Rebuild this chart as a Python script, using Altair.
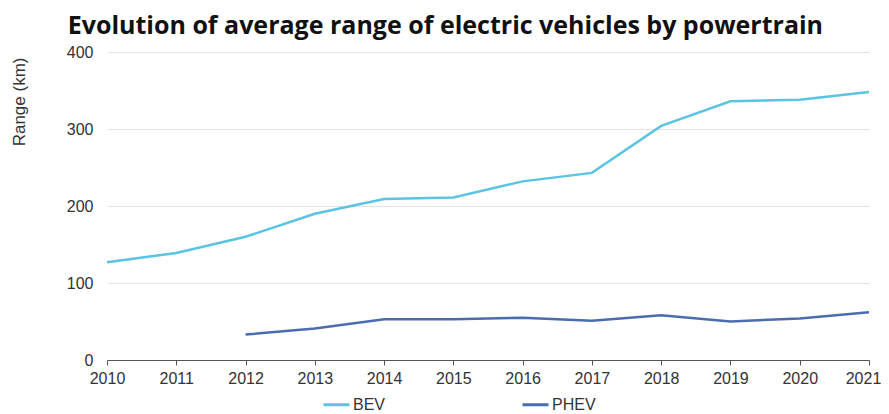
import altair as alt
import pandas as pd

years = [2010, 2011, 2012, 2013, 2014, 2015, 2016, 2017, 2018, 2019, 2020, 2021]
bev = [127, 139, 160, 190, 209, 211, 232, 243, 304, 336, 338, 348]
phev_years = [2012, 2013, 2014, 2015, 2016, 2017, 2018, 2019, 2020, 2021]
phev = [33, 41, 53, 53, 55, 51, 58, 50, 54, 62]

rows = [{"year": y, "range": v, "type": "BEV"} for y, v in zip(years, bev)]
rows += [{"year": y, "range": v, "type": "PHEV"} for y, v in zip(phev_years, phev)]
df = pd.DataFrame(rows)

chart = alt.Chart(df).mark_line(strokeWidth=2.5).encode(
    x=alt.X("year:Q", scale=alt.Scale(domain=[2010, 2021], nice=False, zero=False),
            axis=alt.Axis(values=years, format="d", title=None, grid=False,
                          domainColor="#555555", tickColor="#555555", tickSize=5,
                          labelFont="Liberation Sans", labelFontSize=16, labelColor="#333333",
                          labelPadding=5, labelFlush=False, labelOverlap=False, labelBound=False,
                          labelOffset={"condition": {"test": "datum.value == 2021", "value": -6}, "value": 0})),
    y=alt.Y("range:Q", scale=alt.Scale(domain=[0, 400]),
            axis=alt.Axis(values=[0, 100, 200, 300, 400], title="Range (km)", domain=False, ticks=False,
                          gridColor="#e2e2e2", labelFont="Liberation Sans", labelFontSize=16,
                          labelColor="#333333", labelPadding=14,
                          titleFont="Liberation Sans", titleFontSize=17, titleFontWeight="normal",
                          titleColor="#333333", titleAnchor="end", titleAngle=-90,
                          titleAlign="right", titleBaseline="bottom", titleX=-79, titleY=5)),
    color=alt.Color("type:N", scale=alt.Scale(domain=["BEV", "PHEV"], range=["#5BC4E2", "#4A6DB0"]),
                    legend=alt.Legend(title=None, orient="none", legendX=215, legendY=338,
                                      direction="horizontal", symbolType="stroke",
                                      symbolSize=676, symbolStrokeWidth=3, labelOffset=2,
                                      columnPadding=130, labelFont="Liberation Sans",
                                      labelFontSize=16, labelColor="#333333")),
).properties(
    width=762, height=308,
    title=alt.TitleParams("Evolution of average range of electric vehicles by powertrain",
                          font="Open Sans", fontSize=25, fontWeight="bold", color="#111111",
                          anchor="middle", frame="bounds", offset=5),
    autosize=alt.AutoSizeParams(type="none"),
    padding={"left": 99, "top": 44, "right": 12, "bottom": 54},
).configure_view(stroke=None)

chart.save("out.html", embed_options={"renderer": "svg", "actions": False})
